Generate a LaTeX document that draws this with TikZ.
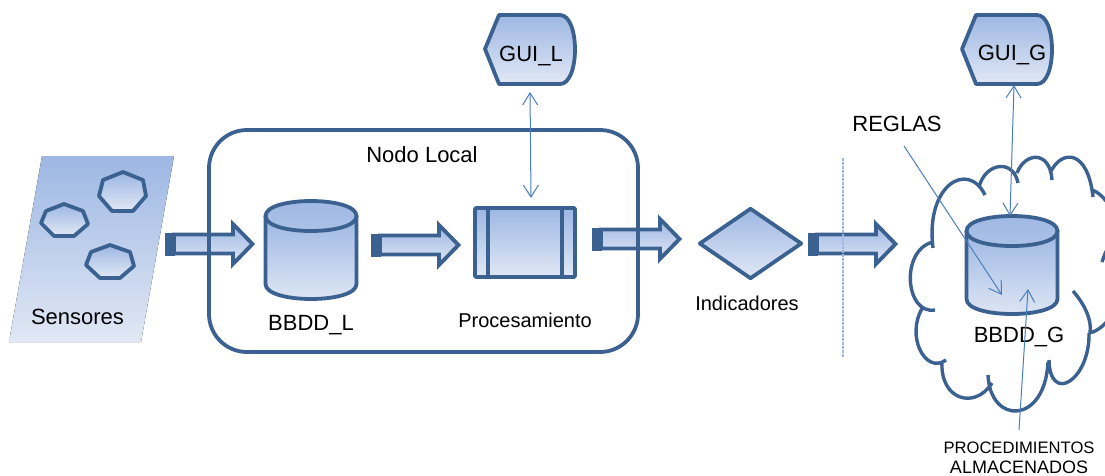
\documentclass[tikz,border=0pt]{standalone}
\usepackage{fontspec}
\setmainfont{Liberation Sans}
\usetikzlibrary{arrows.meta,shapes.geometric}
\definecolor{edgeblue}{HTML}{3A6190}
\definecolor{linkblue}{HTML}{4A7EBB}
\definecolor{topblue}{HTML}{9DB7E3}
\definecolor{lowblue}{HTML}{E1E8F5}
\tikzset{
	boxed/.style={draw=edgeblue,line width=3.8pt,line join=round,top color=topblue,bottom color=lowblue},
	label22/.style={font=\fontsize{22}{26}\selectfont,inner sep=0pt},
	label20/.style={font=\fontsize{20}{24}\selectfont,inner sep=0pt},
	label16/.style={font=\fontsize{16.6}{20}\selectfont,inner sep=0pt},
	label18/.style={font=\fontsize{18}{22}\selectfont,inner sep=0pt},
	link/.style={draw=linkblue,line width=1pt,{Straight Barb[length=12pt,width=15pt]}-{Straight Barb[length=12pt,width=15pt]}},
	linkto/.style={draw=linkblue,line width=1pt,-{Straight Barb[length=12pt,width=15pt]}},
	blockarrow/.pic={
		\draw[boxed,line join=miter] (9,-9.5) -- (68,-9.5) -- (68,-20) -- (87.5,0) -- (68,20) -- (68,9.5) -- (9,9.5) -- cycle;
		\fill[edgeblue] (0,-11.5) rectangle (10,11.5);
	},
	database/.pic={
		\draw[boxed] (0,0) -- (0,68) .. controls (0,88) and (91,88) .. (91,68) -- (91,0) -- cycle;
		\draw[boxed,bottom color=topblue!75!lowblue] (0,0) .. controls (0,-20) and (91,-20) .. (91,0) .. controls (91,20) and (0,20) .. (0,0) -- cycle;
	},
	display/.pic={
		\draw[boxed] (0,0) -- (14,-34) -- (75,-34) .. controls (95,-34) and (95,35) .. (75,35) -- (14,35) -- cycle;
	},
}
\begin{document}
\begin{tikzpicture}[x=1pt,y=-1pt]
	\useasboundingbox (0,0) rectangle (1105,475);
	\fill[top color=topblue,bottom color=lowblue] (42,156) -- (174,156) -- (141,342) -- (9,342) -- cycle;
	\draw[boxed] (123,172) -- (143,180) -- (146,196) -- (133,211) -- (112,211) -- (99,196) -- (103,180) -- cycle;
	\draw[boxed] (64,204) -- (83,211) -- (88,224) -- (74,236) -- (54,236) -- (41,223) -- (46,211) -- cycle;
	\draw[boxed] (110,245) -- (130,252) -- (134,266) -- (120,278) -- (100,278) -- (86,265) -- (91,252) -- cycle;

	\pic at (165,244) {blockarrow};
	\pic at (371,245) {blockarrow};
	\pic at (592,239) {blockarrow};
	\pic at (808,244) {blockarrow};

	\node[draw=edgeblue,line width=3.8pt,rounded corners=38pt,minimum width=429pt,minimum height=222pt] (nodolocal) at (423.5,241) {};
	\node[label22] (nodotext) at (422,155) {Nodo Local};

	\pic at (265.5,216) {database};
	\node[boxed,rounded corners=1pt,minimum width=100pt,minimum height=69pt,inner sep=0pt] (proc) at (525,242.5) {};
	\draw[edgeblue,line width=3.8pt] (488,208) -- (488,277);
	\draw[edgeblue,line width=3.8pt] (562,208) -- (562,277);
	\node[boxed,diamond,shape aspect=1.45,minimum width=103pt,minimum height=71pt,inner sep=0pt] (indic) at (750.5,243.5) {};

	\pic at (485,49) {display};
	\pic at (962,49) {display};

	\begin{scope}
		\clip (900,140) rectangle (1105,430);
		\draw[edgeblue,line width=3.4pt]
			(933,248) .. controls (925,185) and (968,160) .. (985,195)
			(979,187) .. controls (985,163) and (1013,158) .. (1018,183)
			(1017,173) .. controls (1025,152) and (1050,150) .. (1052,180)
			(1050,173) .. controls (1062,148) and (1088,150) .. (1093,197)
			(1092,190) .. controls (1098,192) and (1105,198) .. (1110,207)
			(1110,245) .. controls (1106,250) and (1104,256) .. (1102,262)
			(1073,291) .. controls (1085,305) and (1092,320) .. (1090,333)
			(1089,333) .. controls (1095,332) and (1102,328) .. (1110,318)
			(1089,333) .. controls (1090,380) and (1050,405) .. (1049,360)
			(1048,362) .. controls (1045,425) and (990,425) .. (988,375)
			(992,383) .. controls (975,410) and (940,400) .. (942,362)
			(946,360) .. controls (925,375) and (905,335) .. (923,307)
			(935,310) .. controls (905,315) and (900,250) .. (933,242);
	\end{scope}
	\pic at (966.5,231) {database};

	\draw[topblue,line width=2.4pt,dash pattern=on 3pt off 1pt] (843,158) -- (843,358);

	\node[label22] (sensores) at (77.5,317) {Sensores};
	\node[label22] (bbddl) at (311,325) {BBDD\_L};
	\node[label20] (proctext) at (525,320) {Procesamiento};
	\node[label20] (indictext) at (747,303) {Indicadores};
	\node[label22] (guil) at (531,56) {GUI\_L};
	\node[label22] (guig) at (1012,55) {GUI\_G};
	\node[label22] (reglas) at (897,124) {REGLAS};
	\node[label22] (bbddg) at (1019,337) {BBDD\_G};
	\node[label16] (procalm) at (1019,447.5) {PROCEDIMIENTOS};
	\node[label18] (almac) at (1019,467) {ALMACENADOS};

	\coordinate (guilend) at (530,92);
	\coordinate (procend) at (531,198);
	\coordinate (guigend) at (1014,85);
	\coordinate (dbgtop) at (1010,216);
	\coordinate (reglasend) at (904,146);
	\coordinate (dbgin) at (1002,295);
	\coordinate (almend) at (1019,430);
	\coordinate (dbgup) at (1028,289);

	\draw[link] (guilend) -- (procend);
	\draw[link] (guigend) -- (dbgtop);
	\draw[linkto] (reglasend) -- (dbgin);
	\draw[linkto] (almend) -- (dbgup);
\end{tikzpicture}
\end{document}
